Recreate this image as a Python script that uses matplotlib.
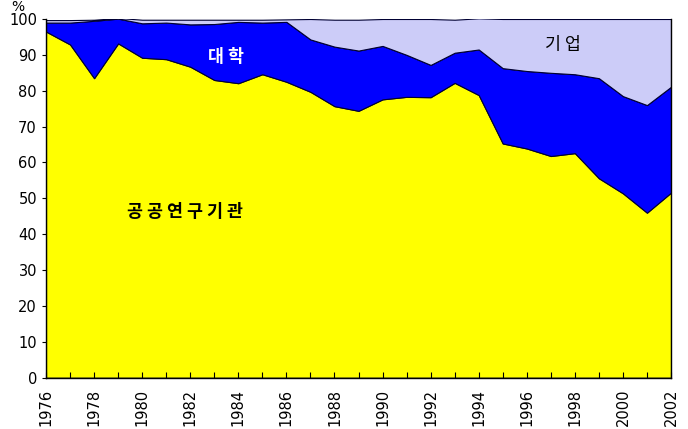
import numpy as np
import matplotlib.pyplot as plt

plt.rcParams['font.family'] = ['DejaVu Sans', 'Noto Sans CJK KR']

# 연도별 연구주체 비중 (%)
years = list(range(1976, 2003))
public = [96.5, 92.9, 83.5, 93.2, 89.2, 88.8, 86.7, 83.0, 82.1, 84.6, 82.5, 79.7, 75.7, 74.4,
          77.6, 78.3, 78.2, 82.2, 78.8, 65.3, 63.9, 61.8, 62.6, 55.6, 51.4, 46.0, 51.6]
univ = [2.5, 6.1, 16.0, 6.9, 9.6, 10.2, 11.8, 15.6, 17.1, 14.4, 16.7, 14.6, 16.6, 16.8,
        14.9, 11.7, 9.0, 8.4, 12.7, 21.0, 21.6, 23.2, 22.0, 27.9, 27.1, 30.0, 29.5]
industry = [0.7, 0.7, 0.3, 0.2, 1.0, 0.8, 1.3, 1.2, 0.6, 0.8, 0.7, 5.7, 7.5, 8.6,
            7.5, 10.0, 12.8, 9.2, 8.7, 13.7, 14.5, 15.0, 15.4, 16.5, 21.5, 24.0, 18.9]

fig = plt.figure(figsize=(6.88, 4.29), dpi=100)
ax = fig.add_axes([0.0669, 0.1196, 0.9084, 0.8361])

ax.stackplot(years, public, univ, industry,
             colors=['#FFFF00', '#0000FF', '#CCCCF8'],
             edgecolor='#000033', linewidth=0.8)

ax.set_xlim(1976, 2002)
ax.set_ylim(0, 100)
ax.set_yticks(range(0, 101, 10))
ax.set_xticks(years)
ax.set_xticklabels([str(y) if y % 2 == 0 else '' for y in years], rotation=90)
ax.tick_params(axis='x', direction='in', length=4, labelsize=10.5, pad=8)
ax.tick_params(axis='y', direction='out', length=3, labelsize=10.5)

for s in ax.spines.values():
    s.set_linewidth(1.0)
ax.spines['top'].set_visible(False)

kr = ['Noto Sans CJK KR', 'DejaVu Sans']
ax.text(1981.8, 46.2, '공 공 연 구 기 관', family=kr, fontsize=12.5, fontweight='bold', ha='center', va='center')
ax.text(1983.5, 89.4, '대 학', family=kr, fontsize=12.5, fontweight='bold', color='white', ha='center', va='center')
ax.text(1997.5, 92.7, '기 업', family=kr, fontsize=12.5, ha='center', va='center')
fig.text(0.016, 0.968, '%', fontsize=10, ha='left', va='bottom')

fig.savefig('out.png', dpi=100)
